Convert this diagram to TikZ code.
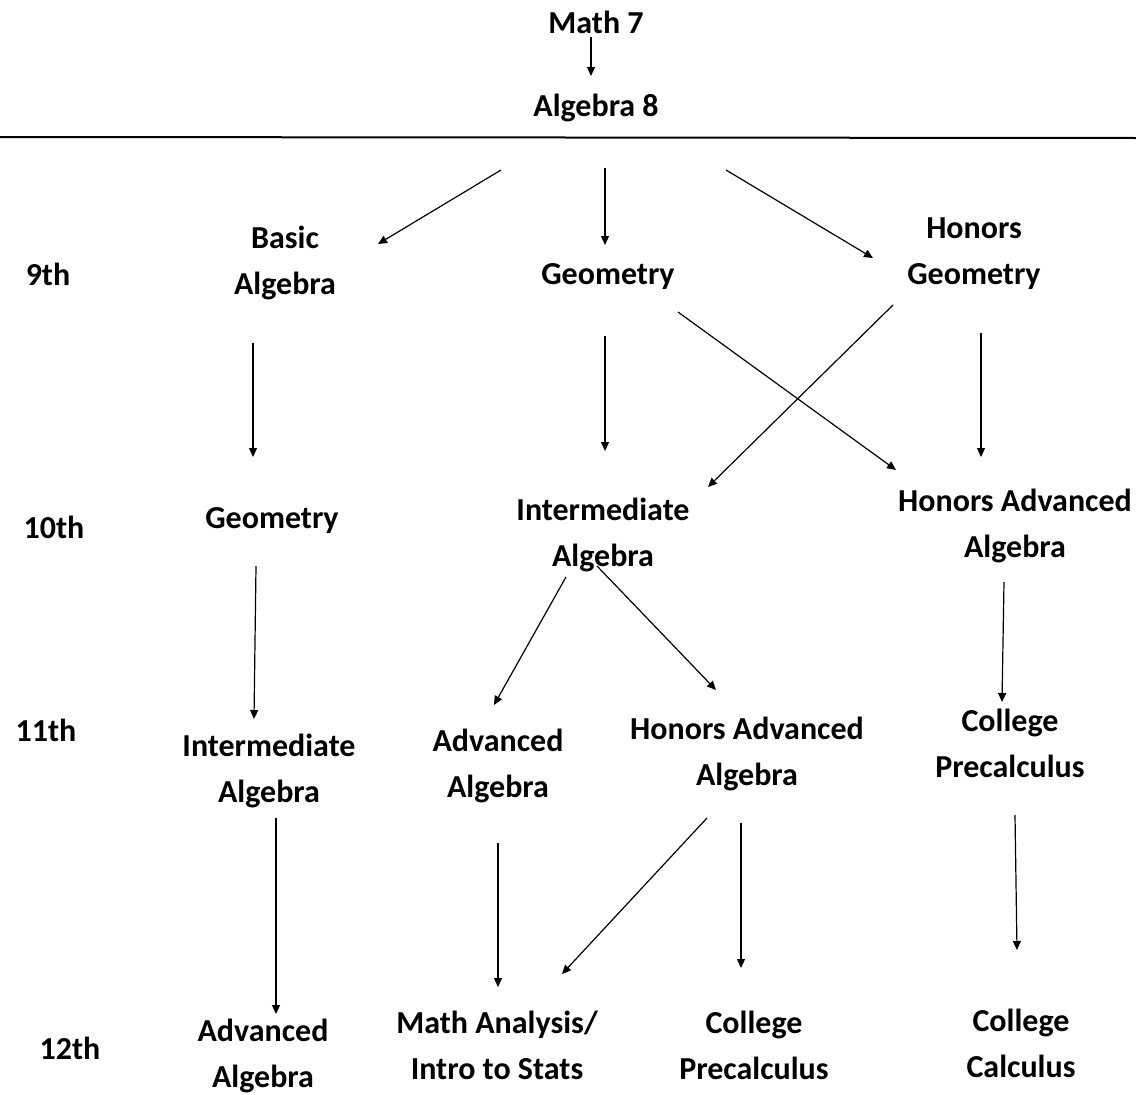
\documentclass[tikz,border=0pt]{standalone}
\usepackage{fontspec}
\setmainfont{Carlito}
\usetikzlibrary{arrows.meta}
\tikzset{
  lbl/.style={font=\fontsize{32}{46}\selectfont\bfseries, align=center, inner sep=0pt},
  arr/.style={line width=1.2pt, -{Triangle[length=9pt,width=8pt]}},
}
\begin{document}
\begin{tikzpicture}[x=1pt,y=-1pt]
\useasboundingbox (0,0) rectangle (1136,1095);
% top
\node[lbl] (math7) at (596,22) {Math 7};
\node[lbl] (alg8) at (596,108) {Algebra 8};
\coordinate (hl) at (0,137);
\coordinate (hr) at (1136,138);
\draw[line width=2pt] (hl) -- (hr);
% grade labels
\node[lbl] (g9) at (48,274) {9th};
\node[lbl] (g10) at (54,527) {10th};
\node[lbl] (g11) at (46,730) {11th};
\node[lbl] (g12) at (70,1048) {12th};
% 9th
\node[lbl] (basic) at (285,263) {Basic\\Algebra};
\node[lbl] (geo9) at (608,277) {Geometry};
\node[lbl] (hgeo) at (974,254) {Honors\\Geometry};
% 10th
\node[lbl] (geo10) at (272,521) {Geometry};
\node[lbl] (int10) at (603,535) {Intermediate\\Algebra};
\node[lbl] (hadv10) at (1015,526) {Honors Advanced\\Algebra};
% 11th
\node[lbl] (int11) at (269,771) {Intermediate\\Algebra};
\node[lbl] (adv11) at (498,766) {Advanced\\Algebra};
\node[lbl] (hadv11) at (747,754) {Honors Advanced\\Algebra};
\node[lbl] (cprec11) at (1010,743) {College\\Precalculus};
% 12th
\node[lbl] (adv12) at (263,1056) {Advanced\\Algebra};
\node[lbl] (mathan) at (497,1045) {Math Analysis/\\Intro to Stats};
\node[lbl] (cprec12) at (754,1045) {College\\Precalculus};
\node[lbl] (ccalc) at (1021,1043) {College\\Calculus};
% arrows
\draw[arr] ([shift={(-5,15)}]math7.center) -- ([shift={(-5,-32)}]alg8.center);
\draw[arr] ([shift={(-95,62)}]alg8.center) -- ([shift={(93,-19)}]basic.center);
\draw[arr] ([shift={(9,60)}]alg8.center) -- ([shift={(-3,-32)}]geo9.center);
\draw[arr] ([shift={(130,62)}]alg8.center) -- ([shift={(-101,4)}]hgeo.center);
\draw[arr] ([shift={(-32,80)}]basic.center) -- ([shift={(-19,-64)}]geo10.center);
\draw[arr] ([shift={(-3,59)}]geo9.center) -- ([shift={(2,-84)}]int10.center);
\draw[arr] ([shift={(70,35)}]geo9.center) -- ([shift={(-119,-56)}]hadv10.center);
\draw[arr] ([shift={(-81,51)}]hgeo.center) -- ([shift={(105,-48)}]int10.center);
\draw[arr] ([shift={(7,79)}]hgeo.center) -- ([shift={(-34,-69)}]hadv10.center);
\draw[arr] ([shift={(-16,45)}]geo10.center) -- ([shift={(-15,-52)}]int11.center);
\draw[arr] ([shift={(-37,42)}]int10.center) -- ([shift={(-4,-61)}]adv11.center);
\draw[arr] ([shift={(-6,31)}]int10.center) -- ([shift={(-31,-64)}]hadv11.center);
\draw[arr] ([shift={(-11,56)}]hadv10.center) -- ([shift={(-8,-41)}]cprec11.center);
\draw[arr] ([shift={(7,47)}]int11.center) -- ([shift={(13,-42)}]adv12.center);
\draw[arr] ([shift={(0,77)}]adv11.center) -- ([shift={(1,-58)}]mathan.center);
\draw[arr] ([shift={(-40,64)}]hadv11.center) -- ([shift={(65,-71)}]mathan.center);
\draw[arr] ([shift={(-6,69)}]hadv11.center) -- ([shift={(-13,-77)}]cprec12.center);
\draw[arr] ([shift={(5,72)}]cprec11.center) -- ([shift={(-4,-93)}]ccalc.center);
\end{tikzpicture}
\end{document}
